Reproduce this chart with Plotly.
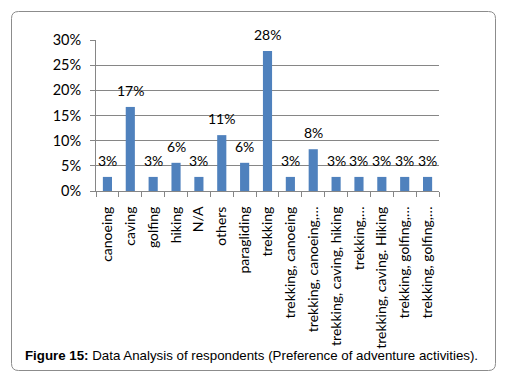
import plotly.graph_objects as go

categories = ["canoeing", "caving", "golfing", "hiking", "N/A", "others", "paragliding",
              "trekking", "trekking, canoeing", "trekking, canoeing,…",
              "trekking, caving, hiking", "trekking,…", "trekking, caving. Hiking",
              "trekking, golfing,…", "trekking, golfing,…"]
values_pct = [2.8, 16.7, 2.8, 5.6, 2.8, 11.1, 5.6, 27.8, 2.8, 8.3, 2.8, 2.8, 2.8, 2.8, 2.8]
y_ticks = [0, 0.05, 0.10, 0.15, 0.20, 0.25, 0.30]
caption = "<b>Figure 15:</b> Data Analysis of respondents (Preference of adventure activities)."

OFF = 8  # browser default body margin
W, H = 514 - OFF, 389 - OFF
L, R, T, B = 96 - OFF, 439 - OFF, 40 - OFF, 191 - OFF  # plot area in pixels

def px(x):
    return (x - OFF - L) / (R - L)

def py(y):
    return (B - (y - OFF)) / (B - T)

xs = list(range(len(categories)))
vals = [v / 100 for v in values_pct]

FONT = "Lato, Carlito, sans-serif"

fig = go.Figure()
fig.add_trace(go.Bar(
    x=xs, y=vals,
    marker=dict(color="#4F81BD", line=dict(width=0)),
    hoverinfo="x+y",
))

# data labels placed above bars via the data coordinates
label_annos = [dict(x=x, y=v, xref="x", yref="y", text=f"{round(v * 100)}%",
                    showarrow=False, xanchor="center", yanchor="bottom", yshift=6,
                    font=dict(family=FONT, size=14, color="#000"))
               for x, v in zip(xs, vals)]

# rounded border
x0, x1, y0, y1, r = 11.5, 495.5, 11.5, 370.5, 7
path = (f"M {px(x0+r)},{py(y0)} L {px(x1-r)},{py(y0)} Q {px(x1)},{py(y0)} {px(x1)},{py(y0+r)} "
        f"L {px(x1)},{py(y1-r)} Q {px(x1)},{py(y1)} {px(x1-r)},{py(y1)} "
        f"L {px(x0+r)},{py(y1)} Q {px(x0)},{py(y1)} {px(x0)},{py(y1-r)} "
        f"L {px(x0)},{py(y0+r)} Q {px(x0)},{py(y0)} {px(x0+r)},{py(y0)} Z")

fig.update_layout(
    width=W, height=H,
    margin=dict(l=L, r=W - R, t=T, b=H - B),
    paper_bgcolor="white", plot_bgcolor="white",
    showlegend=False,
    bargap=0.6,
    font=dict(family=FONT, size=14, color="#000"),
    shapes=[dict(type="path", path=path, xref="paper", yref="paper",
                 line=dict(color="#8c8c8c", width=1), layer="below")],
    annotations=label_annos + [dict(text=caption, xref="paper", yref="paper",
                      x=px(23), y=py(355), xanchor="left", yanchor="middle",
                      showarrow=False,
                      font=dict(family="Liberation Sans, Arial, sans-serif", size=13.3, color="#000"))],
)
fig.update_xaxes(
    range=[-0.5, len(categories) - 0.5],
    tickmode="array", tickvals=xs, ticktext=categories,
    tickangle=-90, ticks="", showgrid=False,
    showline=True, linecolor="#868686", linewidth=1,
    ticklabelstandoff=9,
    minor=dict(tickmode="array", tickvals=[i - 0.5 for i in range(len(categories) + 1)],
               ticks="outside", ticklen=5, tickcolor="#868686", showgrid=False),
    tickfont=dict(size=14),
)
fig.update_yaxes(
    range=[0, 0.30], tickmode="array", tickvals=y_ticks, tickformat=".0%",
    ticks="outside", ticklen=5, tickcolor="#868686",
    showgrid=True, gridcolor="#868686", gridwidth=1,
    showline=True, linecolor="#868686", linewidth=1,
    zeroline=False, ticklabelstandoff=6,
    tickfont=dict(size=14.5),
)

fig.write_html("out.html")
